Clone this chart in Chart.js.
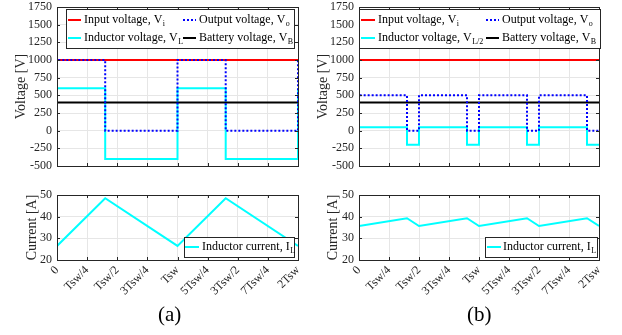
<!DOCTYPE html>
<html>
<head>
<meta charset="utf-8">
<script src="https://cdn.jsdelivr.net/npm/chart.js@4.4.1/dist/chart.umd.min.js"></script>
<style>
  html, body { margin: 0; padding: 0; background: #fff; }
  body { width: 622px; height: 335px; position: relative; overflow: hidden; font-family: 'Liberation Serif', 'Times New Roman', serif; }
  canvas { position: absolute; }
  .caption { position: absolute; font-size: 21px; line-height: 1; color: #000; }
</style>
</head>
<body>
<canvas id="voltA" width="310" height="175" style="left:0;top:0"></canvas>
<canvas id="voltB" width="312" height="175" style="left:310px;top:0"></canvas>
<canvas id="currA" width="310" height="120" style="left:0;top:185px"></canvas>
<canvas id="currB" width="312" height="120" style="left:310px;top:185px"></canvas>
<div class="caption" style="left:158px;top:304px">(a)</div>
<div class="caption" style="left:467px;top:304px">(b)</div>
<script>
// time axis in units of Tsw
const tickLabels = ['0', 'Tsw/4', 'Tsw/2', '3Tsw/4', 'Tsw', '5Tsw/4', '3Tsw/2', '7Tsw/4', '2Tsw'];
const tSpan = [0, 2];
const inputVoltage = [1000, 1000];
const batteryVoltage = [400, 400];

// (a) single phase
const tSwitchA = [0, 0, 0.4, 1, 1.4, 2];
const outputVoltageA = [0, 1000, 0, 1000, 0, 1000];
const inductorVoltageA = [-400, 600, -400, 600, -400, 600];
const tCurrentA = [0, 0.4, 1, 1.4, 2];
const inductorCurrentA = [26.5, 48.5, 26.5, 48.5, 26.5];

// (b) interleaved
const tSwitchB = [0, 0, 0.4, 0.5, 0.9, 1, 1.4, 1.5, 1.9, 2];
const outputVoltageB = [0, 500, 0, 500, 0, 500, 0, 500, 0, 0];
const inductorVoltageB = [-200, 50, -200, 50, -200, 50, -200, 50, -200, -200];
const tCurrentB = [0, 0.4, 0.5, 0.9, 1, 1.4, 1.5, 1.9, 2];
const inductorCurrentB = [35.7, 39.3, 35.7, 39.3, 35.7, 39.3, 35.7, 39.3, 35.7];

const SERIF = "'Liberation Serif', 'Times New Roman', serif";
const INK = '#262626';
Chart.defaults.font.family = SERIF;
Chart.defaults.color = INK;

function pts(xs, ys) {
  return xs.map(function (x, i) { return { x: x, y: ys[i] }; });
}

// the layout is fixed by hand, so drop the label overflow padding
function noOverflow(s) {
  s.paddingTop = 0; s.paddingBottom = 0; s.paddingLeft = 0; s.paddingRight = 0;
}

// box, inward ticks and legend with subscripts, drawn like the matlab figure
const paperFrame = {
  id: 'paperFrame',
  afterDraw(chart, args, opts) {
    const ctx = chart.ctx;
    const a = chart.chartArea;
    const xs = chart.scales.x;
    const ys = chart.scales.y;
    ctx.save();
    ctx.strokeStyle = INK;
    ctx.lineWidth = 1;
    ctx.beginPath();
    ys.ticks.forEach(function (t) {
      const py = Math.round(ys.getPixelForValue(t.value)) + 0.5;
      ctx.moveTo(a.left, py); ctx.lineTo(a.left + 3, py);
      ctx.moveTo(a.right, py); ctx.lineTo(a.right - 3, py);
    });
    xs.ticks.forEach(function (t) {
      const px = Math.round(xs.getPixelForValue(t.value)) + 0.5;
      ctx.moveTo(px, a.bottom); ctx.lineTo(px, a.bottom - 3);
      ctx.moveTo(px, a.top); ctx.lineTo(px, a.top + 3);
    });
    ctx.stroke();
    ctx.strokeRect(Math.round(a.left) + 0.5, Math.round(a.top) + 0.5,
      Math.round(a.right - a.left), Math.round(a.bottom - a.top));

    const lg = opts.legend;
    if (lg) {
      ctx.fillStyle = '#fff';
      ctx.fillRect(lg.box[0], lg.box[1], lg.box[2], lg.box[3]);
      ctx.strokeStyle = INK;
      ctx.strokeRect(lg.box[0] + 0.5, lg.box[1] + 0.5, lg.box[2], lg.box[3]);
      chart.data.datasets.forEach(function (ds, i) {
        const col = lg.cols[i % lg.cols.length];
        const y = lg.rows[Math.floor(i / lg.cols.length)];
        ctx.strokeStyle = ds.borderColor;
        ctx.lineWidth = 2;
        ctx.setLineDash(ds.borderDash || []);
        ctx.beginPath();
        ctx.moveTo(col[0], y); ctx.lineTo(col[1], y);
        ctx.stroke();
        ctx.setLineDash([]);
        ctx.fillStyle = '#000';
        ctx.textBaseline = 'middle';
        ctx.font = '12px ' + SERIF;
        ctx.fillText(ds.label, col[2], y);
        const w = ctx.measureText(ds.label).width;
        ctx.font = '8px ' + SERIF;
        ctx.fillText(ds.sub, col[2] + w + 0.5, y + 4);
      });
    }
    ctx.restore();
  }
};

function xScale(showLabels, axisHeight) {
  return {
    type: 'linear',
    min: 0,
    max: 2,
    afterFit: function (s) { s.height = axisHeight; noOverflow(s); },
    grid: { color: '#e6e6e6', drawTicks: false },
    border: { display: false },
    ticks: {
      display: showLabels,
      stepSize: 0.25,
      autoSkip: false,
      minRotation: 45,
      maxRotation: 45,
      padding: 4,
      color: INK,
      font: { family: SERIF, size: 12, lineHeight: 1 },
      callback: function (v) { return tickLabels[Math.round(v * 4)]; }
    }
  };
}

function yScale(min, max, step, title, axisWidth, titleOffset) {
  return {
    min: min,
    max: max,
    afterFit: function (s) { s.width = axisWidth; noOverflow(s); },
    grid: { color: '#e6e6e6', drawTicks: false },
    border: { display: false },
    title: {
      display: true,
      text: title,
      color: INK,
      padding: { top: titleOffset, bottom: 0 },
      font: { family: SERIF, size: 14, lineHeight: 1 }
    },
    ticks: {
      stepSize: step,
      padding: 5,
      color: INK,
      font: { family: SERIF, size: 12, lineHeight: 1 },
      callback: function (v) { return String(v); }
    }
  };
}

function voltageChart(id, tSw, vo, vl, subL, g) {
  return new Chart(document.getElementById(id), {
    type: 'line',
    data: {
      datasets: [
        { label: 'Input voltage, V', sub: 'i', data: pts(tSpan, inputVoltage), borderColor: '#ff0000', borderWidth: 2, order: 2 },
        { label: 'Output voltage, V', sub: 'o', data: pts(tSw, vo), borderColor: '#0000ff', borderWidth: 2, borderDash: [2, 2], stepped: true, order: 1 },
        { label: 'Inductor voltage, V', sub: subL, data: pts(tSw, vl), borderColor: '#00ffff', borderWidth: 2, stepped: true, order: 4 },
        { label: 'Battery voltage, V', sub: 'B', data: pts(tSpan, batteryVoltage), borderColor: '#000000', borderWidth: 2, order: 3 }
      ]
    },
    options: {
      responsive: false,
      animation: false,
      devicePixelRatio: 1,
      layout: { padding: { left: 0, right: g.right, top: 7, bottom: 9 } },
      elements: { point: { radius: 0 }, line: { tension: 0, borderCapStyle: 'butt' } },
      scales: {
        x: xScale(false, 0),
        y: yScale(-500, 1750, 250, 'Voltage [V]', g.axisWidth, g.titleOffset)
      },
      plugins: {
        legend: { display: false },
        tooltip: { enabled: false },
        paperFrame: { legend: g.legend }
      }
    },
    plugins: [paperFrame]
  });
}

function currentChart(id, tI, iL, g) {
  return new Chart(document.getElementById(id), {
    type: 'line',
    data: {
      datasets: [
        { label: 'Inductor current, I', sub: 'L', data: pts(tI, iL), borderColor: '#00ffff', borderWidth: 2 }
      ]
    },
    options: {
      responsive: false,
      animation: false,
      devicePixelRatio: 1,
      layout: { padding: { left: 0, right: g.right, top: 10, bottom: 0 } },
      elements: { point: { radius: 0 }, line: { tension: 0 } },
      scales: {
        x: xScale(true, 45),
        y: yScale(20, 50, 10, 'Current [A]', g.axisWidth, g.titleOffset)
      },
      plugins: {
        legend: { display: false },
        tooltip: { enabled: false },
        paperFrame: { legend: g.legend }
      }
    },
    plugins: [paperFrame]
  });
}

voltageChart('voltA', tSwitchA, outputVoltageA, inductorVoltageA, 'L', {
  right: 12, axisWidth: 57, titleOffset: 14,
  legend: { box: [66, 9, 228, 39], rows: [20, 38], cols: [[68, 81, 84], [183, 196, 199]] }
});
voltageChart('voltB', tSwitchB, outputVoltageB, inductorVoltageB, 'L/2', {
  right: 23, axisWidth: 49, titleOffset: 6,
  legend: { box: [49, 9, 241, 39], rows: [20, 38], cols: [[51, 65, 68], [176, 189, 192]] }
});
currentChart('currA', tCurrentA, inductorCurrentA, {
  right: 12, axisWidth: 57, titleOffset: 25,
  legend: { box: [184, 52, 110, 20], rows: [62], cols: [[185, 199, 202]] }
});
currentChart('currB', tCurrentB, inductorCurrentB, {
  right: 23, axisWidth: 49, titleOffset: 16,
  legend: { box: [175, 52, 112, 20], rows: [62], cols: [[177, 191, 193]] }
});
</script>
</body>
</html>
